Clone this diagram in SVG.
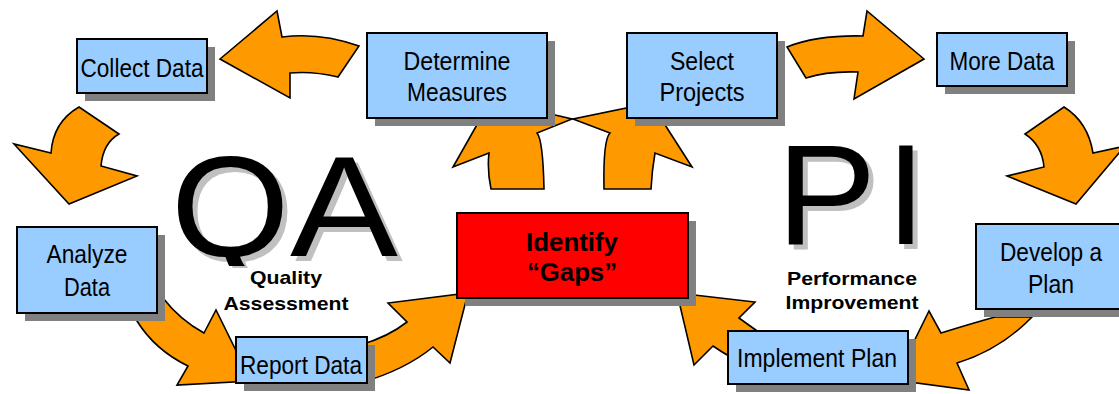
<svg xmlns="http://www.w3.org/2000/svg" width="1119" height="394" viewBox="0 0 1119 394">
<style>
.arr{fill:#FF9900;stroke:#000;stroke-width:1.6;stroke-linejoin:miter}
.box{fill:#99CCFF;stroke:#000;stroke-width:2}
.red{fill:#FF0000;stroke:#000;stroke-width:2}
.sh{fill:#808080}
.t{font-family:"Liberation Sans",Arial,sans-serif;font-size:25px;fill:#000;text-anchor:middle}
.b{font-family:"Liberation Sans",Arial,sans-serif;font-weight:bold;fill:#000;text-anchor:middle}
.big{font-family:"Liberation Sans",Arial,sans-serif;font-size:143px}
</style>
<defs>
<clipPath id="qclip"><rect x="150" y="120" width="150" height="146"/></clipPath>
<clipPath id="qclip2"><rect x="150" y="120" width="150" height="148"/></clipPath>
</defs>
<rect width="1119" height="394" fill="#fff"/>
<g id="connectors">
<path class="arr" d="M220,59 L277,11 L282,37 Q320,32 359,46 L338,77 Q313,71 290,73 L290,98 Z"/>
<path class="arr" d="M79,107 L119,134 Q103,143 101,166 L137,176 L69,204 L14,144 L51,153 Q53,122 79,107 Z"/>
<path class="arr" d="M163,298 Q180,320 204,333 L216,310 L251,381 L177,385 L188,366 Q155,350 137,321 Z"/>
<path class="arr" d="M360,345 Q388,337 407,322 L388,303 L468,293 L450,363 L433,347 Q405,370 360,383 Z"/>
<path class="arr" d="M491,189 Q487,170 489,153 L453,167 L491,100 L572,119 L537,133 Q543,140 544,189 Z"/>
<path class="arr" d="M604,189 Q603,140 610,133 L573,119 L651,103 L692,167 L655,153 Q652,170 651,189 Z"/>
<path class="arr" d="M787,47 Q817,35 863,36 L867,11 L924,59 L854,99 L858,72 Q827,71 806,78 Z"/>
<path class="arr" d="M1064,107 Q1088,122 1093,153 L1125,146 L1076,204 L1007,176 L1044,167 Q1042,145 1025,134 Z"/>
<path class="arr" d="M941,333 Q970,324 995,317 L1032,317 Q1000,350 957,363 L969,390 L895,380 L929,311 Z"/>
<path class="arr" d="M677,293 L755,302 L739,318 Q750,326 770,340 L760,372 Q730,358 713,346 L694,365 Z"/>
</g>
<g id="qa">
<text class="big" x="175.7" y="261" fill="#C0C0C0" textLength="119" lengthAdjust="spacingAndGlyphs" clip-path="url(#qclip2)">Q</text>
<text class="big" x="295" y="261" fill="#C0C0C0" textLength="108" lengthAdjust="spacingAndGlyphs">A</text>
<text class="big" x="170.7" y="256" fill="#000" textLength="119" lengthAdjust="spacingAndGlyphs" clip-path="url(#qclip)">Q</text>
<text class="big" x="290" y="256" fill="#000" textLength="108" lengthAdjust="spacingAndGlyphs">A</text>
<text class="b" x="286" y="284" font-size="19" textLength="72" lengthAdjust="spacingAndGlyphs">Quality</text>
<text class="b" x="286" y="310" font-size="19" textLength="125" lengthAdjust="spacingAndGlyphs">Assessment</text>
</g>
<g id="pi">
<text class="big" x="781.4" y="249" fill="#C0C0C0" textLength="100" lengthAdjust="spacingAndGlyphs">P</text>
<text class="big" x="891" y="249" fill="#C0C0C0">I</text>
<text class="big" x="776.4" y="244" fill="#000" textLength="100" lengthAdjust="spacingAndGlyphs">P</text>
<text class="big" x="886" y="244" fill="#000">I</text>
<text class="b" x="852" y="285" font-size="19" textLength="130" lengthAdjust="spacingAndGlyphs">Performance</text>
<text class="b" x="852" y="309" font-size="19" textLength="133" lengthAdjust="spacingAndGlyphs">Improvement</text>
</g>
<g id="collect-data">
<rect class="sh" x="85" y="47" width="130" height="54"/>
<rect class="box" x="77" y="39" width="130" height="54"/>
<text class="t" x="142" y="77" textLength="123" lengthAdjust="spacingAndGlyphs">Collect Data</text>
</g>
<g id="determine-measures">
<rect class="sh" x="375" y="41" width="180" height="85"/>
<rect class="box" x="367" y="33" width="180" height="85"/>
<text class="t" x="457" y="70" textLength="107" lengthAdjust="spacingAndGlyphs">Determine</text>
<text class="t" x="457" y="101" textLength="100" lengthAdjust="spacingAndGlyphs">Measures</text>
</g>
<g id="select-projects">
<rect class="sh" x="635" y="41" width="150" height="85"/>
<rect class="box" x="627" y="33" width="150" height="85"/>
<text class="t" x="702" y="70" textLength="64" lengthAdjust="spacingAndGlyphs">Select</text>
<text class="t" x="702" y="101" textLength="85" lengthAdjust="spacingAndGlyphs">Projects</text>
</g>
<g id="more-data">
<rect class="sh" x="945" y="41" width="130" height="53"/>
<rect class="box" x="937" y="33" width="130" height="53"/>
<text class="t" x="1002" y="70" textLength="105" lengthAdjust="spacingAndGlyphs">More Data</text>
</g>
<g id="analyze-data">
<rect class="sh" x="25" y="235" width="140" height="86"/>
<rect class="box" x="17" y="227" width="140" height="86"/>
<text class="t" x="87" y="263" textLength="81" lengthAdjust="spacingAndGlyphs">Analyze</text>
<text class="t" x="87" y="296" textLength="46" lengthAdjust="spacingAndGlyphs">Data</text>
</g>
<g id="report-data">
<rect class="sh" x="244" y="345" width="131" height="46"/>
<rect class="box" x="236" y="337" width="131" height="46"/>
<text class="t" x="301" y="374" textLength="122" lengthAdjust="spacingAndGlyphs">Report Data</text>
</g>
<g id="identify-gaps">
<rect class="sh" x="465" y="221" width="231" height="85"/>
<rect class="red" x="457" y="213" width="231" height="85"/>
<text class="b" x="572" y="251" font-size="26" textLength="92" lengthAdjust="spacingAndGlyphs">Identify</text>
<text class="b" x="572" y="281" font-size="26" textLength="90" lengthAdjust="spacingAndGlyphs">“Gaps”</text>
</g>
<g id="develop-plan">
<rect class="sh" x="984" y="232" width="150" height="85"/>
<rect class="box" x="976" y="224" width="150" height="85"/>
<text class="t" x="1051" y="261" textLength="102" lengthAdjust="spacingAndGlyphs">Develop a</text>
<text class="t" x="1051" y="293" textLength="46" lengthAdjust="spacingAndGlyphs">Plan</text>
</g>
<g id="implement-plan">
<rect class="sh" x="736" y="339" width="180" height="53"/>
<rect class="box" x="728" y="331" width="180" height="53"/>
<text class="t" x="817" y="367" textLength="160" lengthAdjust="spacingAndGlyphs">Implement Plan</text>
</g>
</svg>
